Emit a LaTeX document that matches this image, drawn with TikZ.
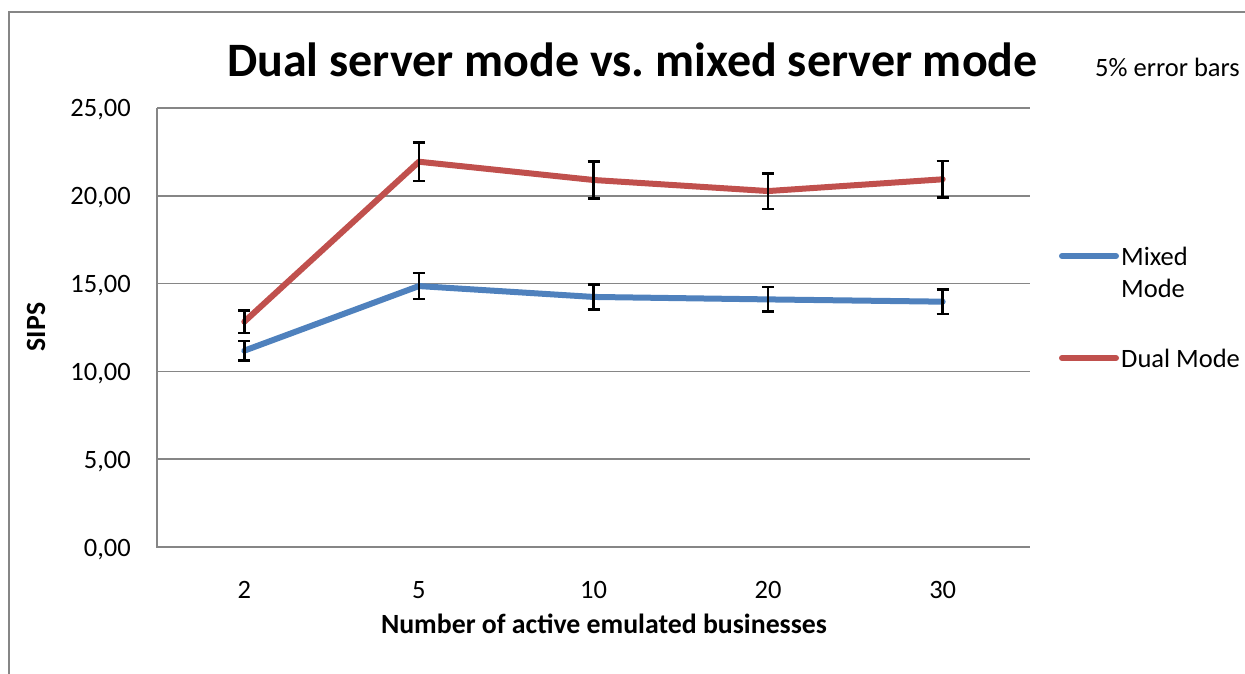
\documentclass[tikz,border=0pt]{standalone}
\usepackage{fontspec}
\setmainfont{Carlito}
\definecolor{mixedblue}{HTML}{4F81BD}
\definecolor{dualred}{HTML}{C0504D}
\definecolor{framegray}{HTML}{868686}
\tikzset{
  frameline/.style={draw=framegray, line width=2pt},
  gridline/.style={draw=framegray, line width=1.6pt},
  labeltext/.style={inner sep=0pt, font=\fontsize{26.5}{32}\selectfont},
  boldtext/.style={inner sep=0pt, font=\fontsize{27.8}{33}\selectfont\bfseries},
  titletext/.style={inner sep=0pt, font=\fontsize{48}{58}\selectfont\bfseries},
  mixedline/.style={draw=mixedblue, line width=6pt, line join=round, line cap=round},
  dualline/.style={draw=dualred, line width=6pt, line join=round, line cap=round},
  errbar/.style={draw=black, line width=2.6pt},
}
\begin{document}
\begin{tikzpicture}[x=1pt,y=1pt]
\useasboundingbox (0,0) rectangle (1245,673);
% outer chart frame (left and top edges)
\draw[frameline] (9,-5) -- (9,661) -- (1250,661);

% title and note
\node[titletext, anchor=base] (title) at (632.5,596) {Dual server mode vs.\ mixed server mode};
\node[labeltext, anchor=base west] (note) at (1095,596) {5\% error bars};

% horizontal gridlines and axes
\foreach \k in {1,...,5}
  \draw[gridline] (157,126+87.8*\k) -- (1030,126+87.8*\k);
\draw[gridline] (157,565) -- (157,126) -- (1030,126);

% value axis labels
\foreach \k/\t in {0/{0,00},1/{5,00},2/{10,00},3/{15,00},4/{20,00},5/{25,00}}
  \node[labeltext, anchor=base east] (ytick\k) at (131,126+87.8*\k-9) {\t};
\node[boldtext, rotate=90] (ytitle) at (36,346) {SIPS};

% category axis labels
\foreach \i/\t in {0/2,1/5,2/10,3/20,4/30}
  \node[labeltext, anchor=base] (xtick\i) at (244.3+174.6*\i,75) {\t};
\node[boldtext, anchor=base] (xtitle) at (604,40) {Number of active emulated businesses};

% data series
\begin{scope}[shift={(157,126)}, x=174.6pt, y=17.56pt]
  \foreach \n/\v in {1/11.18,2/14.86,3/14.24,4/14.1,5/13.97}
    \coordinate (m\n) at (\n-0.5,\v);
  \foreach \n/\v in {1/12.83,2/21.94,3/20.9,4/20.27,5/20.94}
    \coordinate (d\n) at (\n-0.5,\v);
  \draw[mixedline] (m1) -- (m2) -- (m3) -- (m4) -- (m5);
  \draw[dualline] (d1) -- (d2) -- (d3) -- (d4) -- (d5);
  % 5% error bars
  \foreach \n/\v in {1/11.18,2/14.86,3/14.24,4/14.1,5/13.97,
                     1/12.83,2/21.94,3/20.9,4/20.27,5/20.94} {
    \draw[errbar] (\n-0.5,0.95*\v) -- (\n-0.5,1.05*\v);
    \draw[errbar] (\n-0.5,0.95*\v) ++(-6pt,0) -- ++(12pt,0);
    \draw[errbar] (\n-0.5,1.05*\v) ++(-6pt,0) -- ++(12pt,0);
  }
\end{scope}

% legend
\coordinate (lm1) at (1062,417);
\coordinate (lm2) at (1116,417);
\draw[mixedline] (lm1) -- (lm2);
\node[labeltext, anchor=north west, align=left] (lmtext) at (1121,426.5) {Mixed\\Mode};
\coordinate (ld1) at (1062,315);
\coordinate (ld2) at (1116,315);
\draw[dualline] (ld1) -- (ld2);
\node[labeltext, anchor=west] (ldtext) at (1121,315) {Dual Mode};
\end{tikzpicture}
\end{document}
